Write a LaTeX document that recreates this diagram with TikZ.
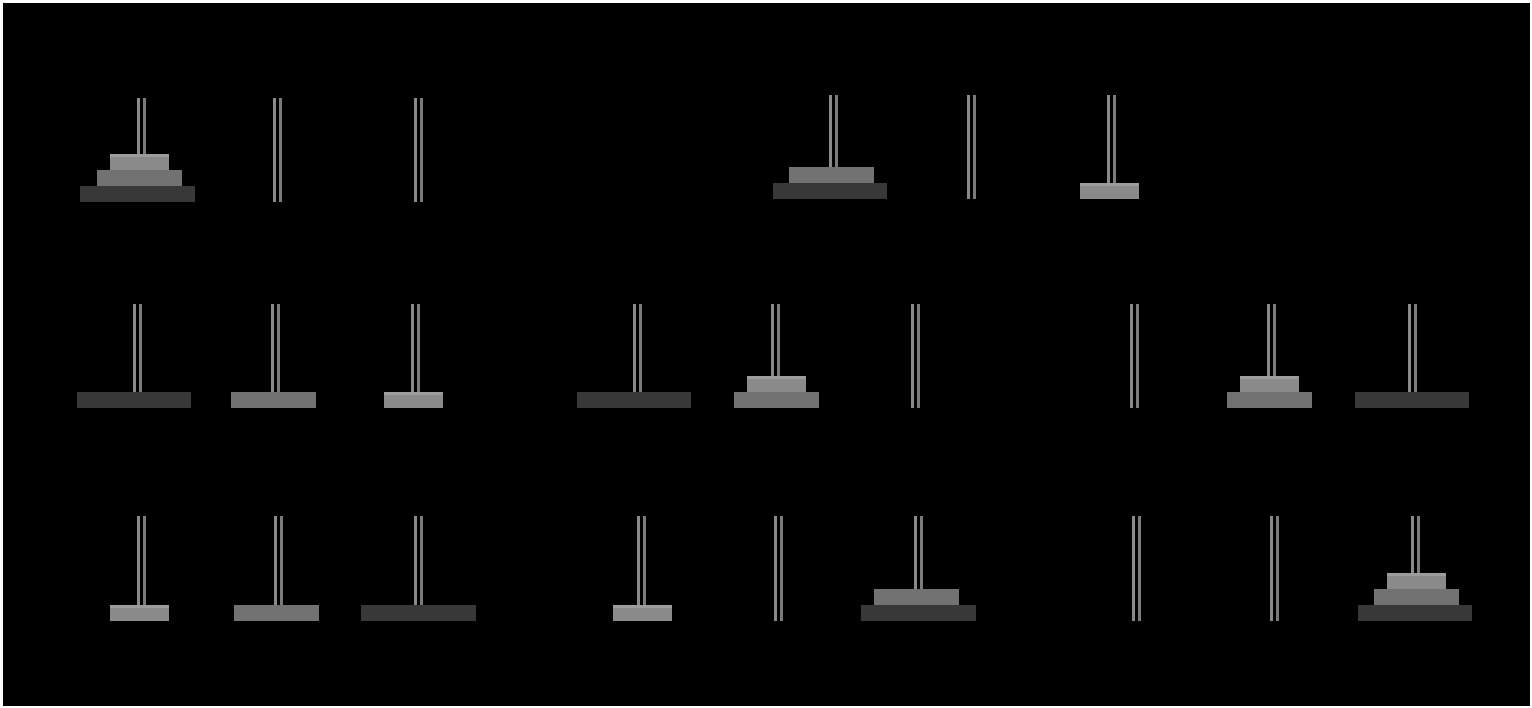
\documentclass[tikz,border=0pt]{standalone}
\definecolor{pegA}{HTML}{8A8A8A}
\definecolor{pegB}{HTML}{7B7B7B}
\definecolor{bigdisk}{HTML}{383838}
\definecolor{middisk}{HTML}{727272}
\definecolor{smalldisk}{HTML}{8A8A8A}
\definecolor{smallrim}{HTML}{9C9C9C}
\tikzset{
  pegl/.style={fill=pegA},
  pegr/.style={fill=pegB},
  big/.style={fill=bigdisk},
  mid/.style={fill=middisk},
  small/.style={fill=smalldisk}
}
% peg: centre x, top y, bottom y
\newcommand{\pegat}[3]{%
  \fill[pegl] ({#1-4.5},#2) rectangle ({#1-1.5},#3);
  \fill[pegr] ({#1+1.5},#2) rectangle ({#1+4.5},#3);}
% disk: style, width, centre x, bottom y
\newcommand{\diskat}[4]{%
  \fill[#1] ({#3-#2/2},#4) rectangle ({#3+#2/2},{#4-16});}
\newcommand{\smallat}[2]{%
  \diskat{small}{59}{#1}{#2}
  \fill[smallrim] ({#1-29.5},{#2-16}) rectangle ({#1+29.5},{#2-13});}
\begin{document}
\begin{tikzpicture}[x=1pt,y=-1pt]
  \fill[white] (0,0) rectangle (1532,708);
  \fill[black] (3,3) rectangle (1530,706);
  % row 1
  \foreach \x in {141,277.5,418.5} \pegat{\x}{98}{202};
  \diskat{big}{115}{137.5}{202}
  \diskat{mid}{85}{139.5}{186}
  \smallat{139.5}{170}
  \foreach \x in {833.5,971,1111} \pegat{\x}{95}{199};
  \diskat{big}{114}{830}{199}
  \diskat{mid}{85}{831.5}{183}
  \smallat{1109.5}{199}
  % row 2
  \foreach \x in {137.5,275,415,637.5,775,915,1134,1271,1412} \pegat{\x}{304}{408};
  \diskat{big}{114}{134}{408}
  \diskat{mid}{85}{273.5}{408}
  \smallat{413}{408}
  \diskat{big}{114}{634}{408}
  \diskat{mid}{85}{776.5}{408}
  \smallat{776.5}{392}
  \diskat{mid}{85}{1269.5}{408}
  \smallat{1269.5}{392}
  \diskat{big}{114}{1412}{408}
  % row 3
  \foreach \x in {141,278,418.5,641,778,918.5,1136,1274.5,1415} \pegat{\x}{516}{621};
  \smallat{139.5}{621}
  \diskat{mid}{85}{276.5}{621}
  \diskat{big}{115}{418.5}{621}
  \smallat{642.5}{621}
  \diskat{big}{115}{918.5}{621}
  \diskat{mid}{85}{916.5}{605}
  \diskat{big}{114}{1415}{621}
  \diskat{mid}{85}{1416.5}{605}
  \smallat{1416.5}{589}
\end{tikzpicture}
\end{document}
